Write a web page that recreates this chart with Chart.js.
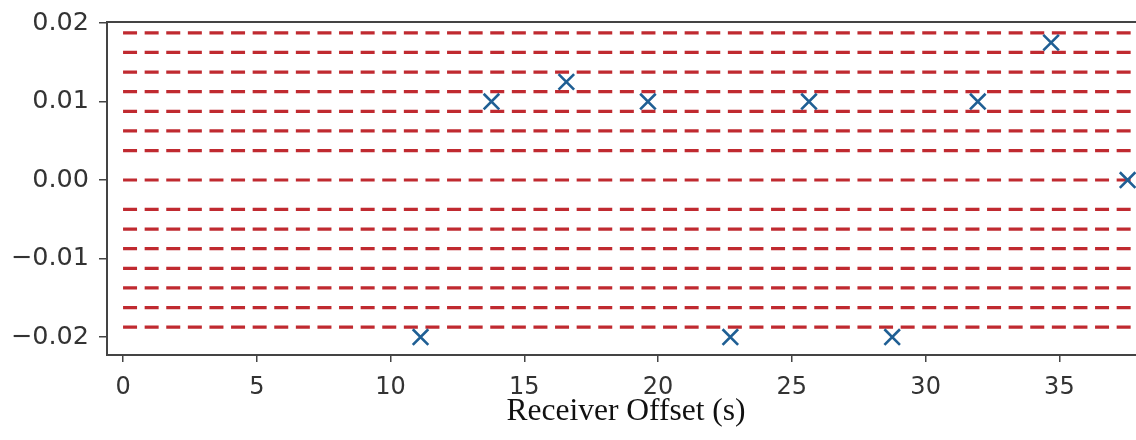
<!DOCTYPE html>
<html>
<head>
<meta charset="utf-8">
<script src="https://cdn.jsdelivr.net/npm/chart.js@4/dist/chart.umd.min.js"></script>
<style>
  html, body { margin: 0; padding: 0; background: #ffffff; overflow: hidden; }
  #wrap { position: relative; width: 1150px; height: 440px; }
</style>
</head>
<body>
<div id="wrap"><canvas id="c" width="1150" height="440"></canvas></div>
<script>
// ---- data ----
const offsetX = [11.12, 13.77, 16.57, 19.62, 22.70, 25.64, 28.75, 31.95, 34.69, 37.55];
const offsetY = [-0.02, 0.01, 0.0125, 0.01, -0.02, 0.01, -0.02, 0.01, 0.0175, 0.0];
const levelLines = [0.01875, 0.01625, 0.01375, 0.01125, 0.00875, 0.00625, 0.00375, 0.0,
                    -0.00375, -0.00625, -0.00875, -0.01125, -0.01375, -0.01625, -0.01875];
const levelStartX = 0;
const levelEndX = 40;
const xTickValues = [0, 5, 10, 15, 20, 25, 30, 35];
const yTickValues = [-0.02, -0.01, 0.0, 0.01, 0.02];
const xTitle = 'Receiver Offset (s)';

const datasets = [{
  type: 'scatter',
  data: offsetX.map((x, i) => ({ x: x, y: offsetY[i] })),
  pointStyle: 'crossRot',
  pointRadius: 11,
  pointBorderWidth: 2.6,
  borderColor: '#1f5f94',
  backgroundColor: '#1f5f94',
  order: 0
}];
levelLines.forEach(v => {
  datasets.push({
    type: 'line',
    data: [{ x: levelStartX, y: v }, { x: levelEndX, y: v }],
    borderColor: '#c02a30',
    borderWidth: 3.2,
    borderDash: [14, 7.6],
    pointRadius: 0,
    fill: false,
    order: 1
  });
});

const framePlugin = {
  id: 'frame',
  afterDraw(chart) {
    const a = chart.chartArea, ctx = chart.ctx;
    ctx.save();
    ctx.strokeStyle = '#444444';
    ctx.lineWidth = 2;
    ctx.strokeRect(a.left, a.top, a.right - a.left, a.bottom - a.top);
    ctx.restore();
  }
};

new Chart(document.getElementById('c'), {
  data: { datasets: datasets },
  options: {
    responsive: false,
    animation: false,
    layout: { autoPadding: false, padding: { top: 22, right: 5, left: 0, bottom: 0 } },
    plugins: { legend: { display: false }, tooltip: { enabled: false } },
    scales: {
      x: {
        type: 'linear',
        min: -0.6,
        max: 38.2,
        afterBuildTicks: s => { s.ticks = xTickValues.map(v => ({ value: v })); },
        afterFit: s => { s.height = 85; s.paddingLeft = 0; s.paddingRight = 0; },
        border: { display: false },
        grid: { drawOnChartArea: false, drawTicks: true, tickLength: 7, tickColor: '#444444', lineWidth: 1.5 },
        ticks: {
          color: '#333333',
          padding: 11,
          font: { family: 'DejaVu Sans', size: 24 },
          callback: v => String(v)
        },
        title: {
          display: true,
          text: xTitle,
          color: '#111111',
          font: { family: 'Liberation Serif', size: 31.5 },
          padding: { top: 0, bottom: 9 }
        }
      },
      y: {
        type: 'linear',
        min: -0.02229,
        max: 0.02013,
        afterBuildTicks: s => { s.ticks = yTickValues.map(v => ({ value: v })); },
        afterFit: s => { s.width = 107; s.paddingTop = 0; s.paddingBottom = 0; },
        border: { display: false },
        grid: { drawOnChartArea: false, drawTicks: true, tickLength: 8, tickColor: '#444444', lineWidth: 1.5 },
        ticks: {
          color: '#333333',
          padding: 10,
          font: { family: 'DejaVu Sans', size: 25.5 },
          callback: v => (v < 0 ? '\u2212' : '') + Math.abs(v).toFixed(2)
        }
      }
    }
  },
  plugins: [framePlugin]
});
</script>
</body>
</html>
